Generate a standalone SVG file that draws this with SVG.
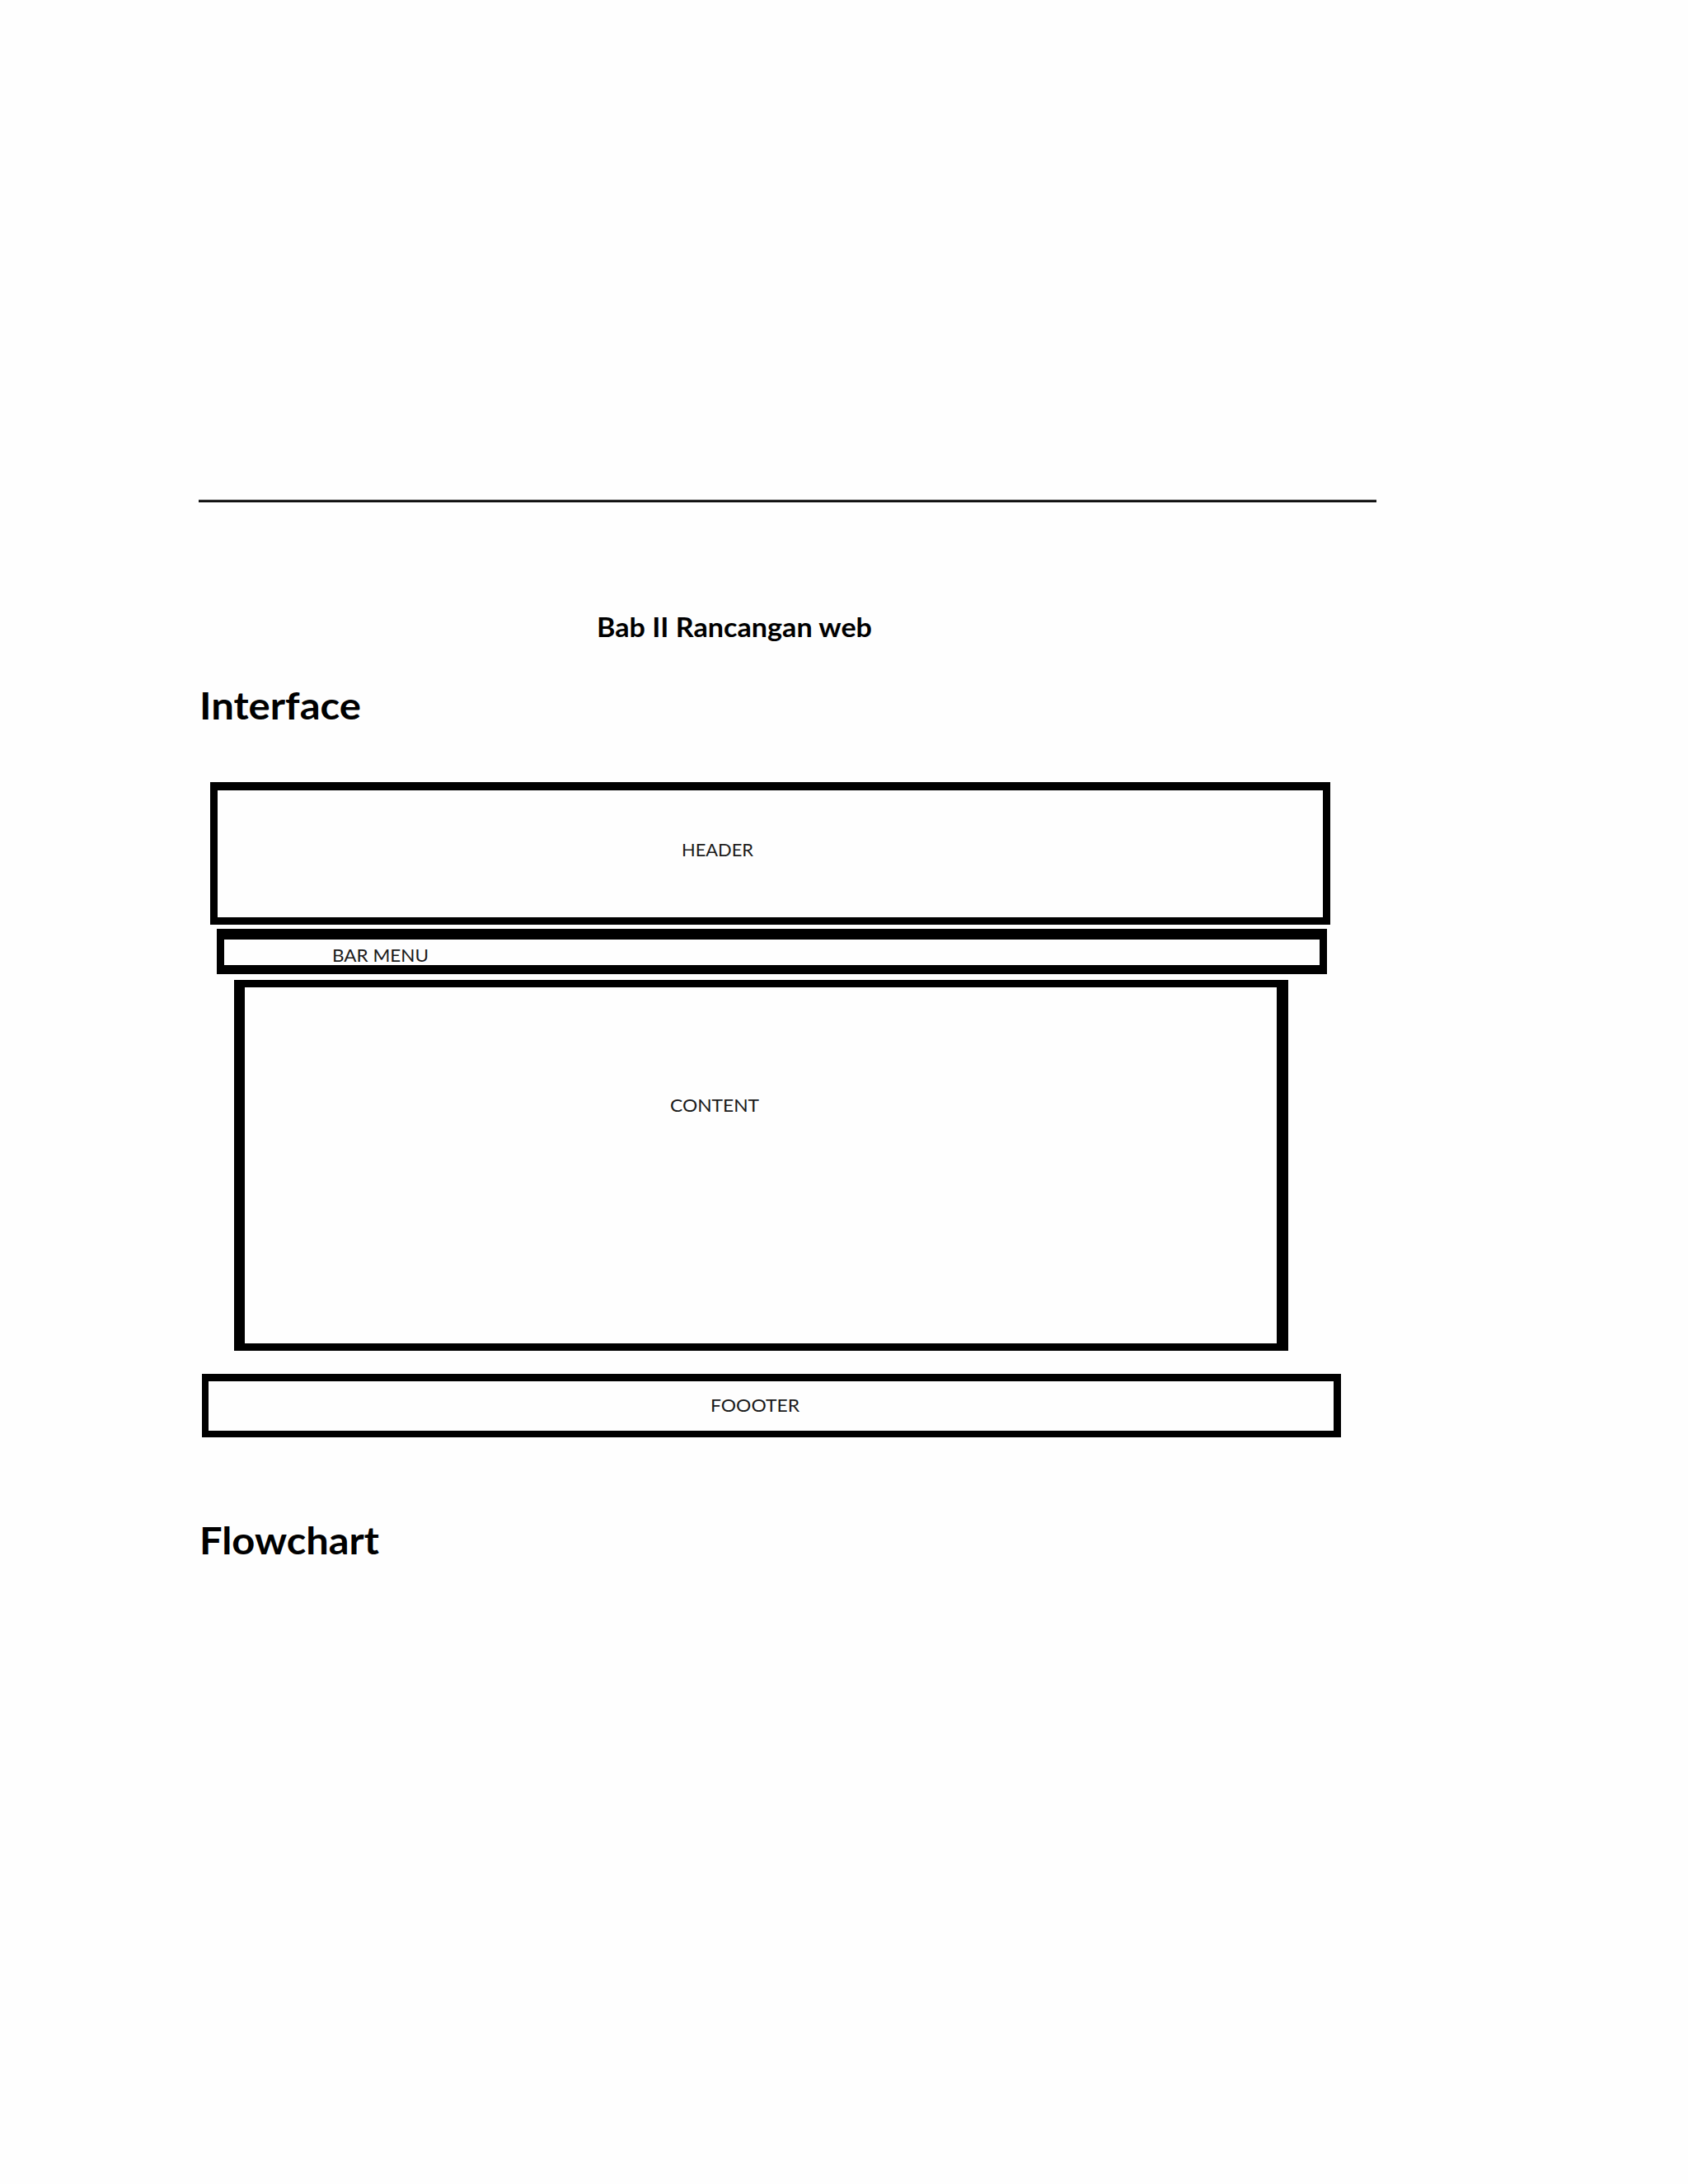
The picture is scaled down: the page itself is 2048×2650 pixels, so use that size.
<svg xmlns="http://www.w3.org/2000/svg" width="2048" height="2650" viewBox="0 0 2048 2650">
<style>
.h{font-family:Lato,"Liberation Sans",sans-serif;font-weight:bold;fill:#000}
.lbl{font-family:Lato,"Liberation Sans",sans-serif;font-size:22px;fill:#1a1a1a}
.box{fill:#000;fill-rule:evenodd}
</style>
<rect width="2048" height="2650" fill="#fefefe"/>
<line x1="241" y1="608" x2="1670" y2="608" stroke="#000" stroke-width="3"/>
<text class="h" x="724" y="773" font-size="33" textLength="334" lengthAdjust="spacingAndGlyphs">Bab II Rancangan web</text>
<text class="h" x="242" y="873" font-size="45" textLength="196" lengthAdjust="spacingAndGlyphs">Interface</text>
<g id="header">
<path class="box" d="M255,949 H1614 V1122 H255 Z M264,959 V1113 H1605 V959 Z"/>
<text class="lbl" x="827" y="1039" textLength="87" lengthAdjust="spacingAndGlyphs">HEADER</text>
</g>
<g id="barmenu">
<path class="box" d="M263,1127 H1610 V1182 H263 Z M272,1140 V1171 H1601 V1140 Z"/>
<text class="lbl" x="403" y="1167" textLength="117" lengthAdjust="spacingAndGlyphs">BAR MENU</text>
</g>
<g id="content">
<path class="box" d="M284,1189 H1563 V1639 H284 Z M297,1198 V1630 H1549 V1198 Z"/>
<text class="lbl" x="813" y="1349" textLength="108" lengthAdjust="spacingAndGlyphs">CONTENT</text>
</g>
<g id="footer">
<path class="box" d="M245,1667 H1627 V1744 H245 Z M253,1676 V1736 H1618 V1676 Z"/>
<text class="lbl" x="862" y="1713" textLength="108" lengthAdjust="spacingAndGlyphs">FOOOTER</text>
</g>
<g id="connectors"></g>
<text class="h" x="242" y="1886" font-size="45" textLength="218" lengthAdjust="spacingAndGlyphs">Flowchart</text>
</svg>
